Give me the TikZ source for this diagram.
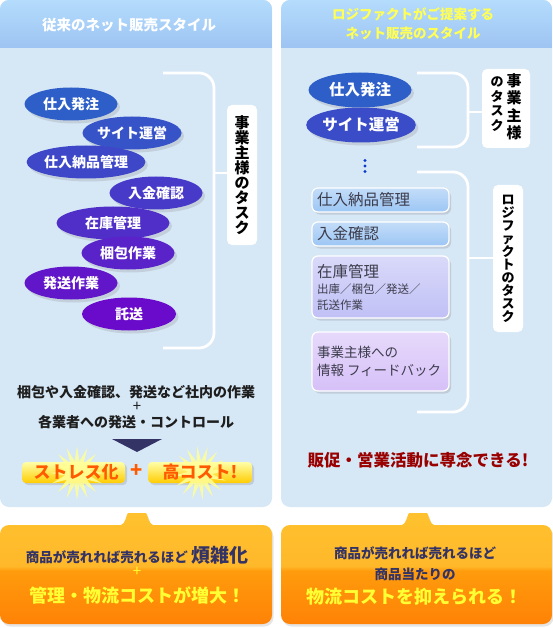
\documentclass[tikz,border=0pt]{standalone}
\usepackage{fontspec}
\setmainfont{Noto Sans CJK JP}
\usetikzlibrary{shapes.geometric,shadows,positioning}
\definecolor{PanelBody}{HTML}{D6E7F6}
\definecolor{HeadTop}{HTML}{B4DCFC}
\definecolor{HeadBot}{HTML}{96BCEF}
\definecolor{HeadYel}{HTML}{FFFF55}
\definecolor{EllBlue}{HTML}{2E5FC8}
\definecolor{EllPurple}{HTML}{6A0ACA}
\definecolor{TxtDark}{HTML}{1E1E1E}
\definecolor{NavyTri}{HTML}{333366}
\definecolor{BtnTop}{HTML}{FFFFA8}
\definecolor{BtnBot}{HTML}{FFCC00}
\definecolor{BtnText}{HTML}{FF5A00}
\definecolor{StarYel}{HTML}{FFFF99}
\definecolor{OrgA}{HTML}{FFCC33}
\definecolor{OrgB}{HTML}{FFB82A}
\definecolor{OrgC}{HTML}{FF9C0C}
\definecolor{OrgD}{HTML}{FF6600}
\definecolor{OrgNavy}{HTML}{333366}
\definecolor{YelText}{HTML}{FFFF33}
\definecolor{RedText}{HTML}{990000}
\definecolor{BoxBlue}{HTML}{9CC6F4}
\definecolor{BoxLav}{HTML}{C0C0F6}
\definecolor{BoxPink}{HTML}{D6C0F8}
\definecolor{BoxText}{HTML}{3C3C4C}
\definecolor{DotBlue}{HTML}{0A3CCC}
\pgfdeclareverticalshading{orgfade}{100bp}{color(0bp)=(OrgD); color(49bp)=(OrgC); color(51bp)=(OrgB); color(100bp)=(OrgA)}
\newcommand{\fsz}[1]{\fontsize{#1}{#1}\selectfont}

\begin{document}
\begin{tikzpicture}[x=1pt, y=-1pt,
    ell/.style={ellipse, fill=#1, minimum height=33pt, inner sep=0pt,
                text=white, font=\fsz{14}\bfseries,
                drop shadow={shadow xshift=2.5pt, shadow yshift=-3pt, opacity=0.22}},
    lbl/.style={rectangle, rounded corners=5pt, fill=white, inner sep=0pt,
                align=center, font=\fsz{15}\bfseries},
    task/.style={rectangle, rounded corners=6pt, draw=white, line width=1.2pt,
                 top color=#1!60!white, bottom color=#1, minimum width=137pt,
                 text width=127pt, inner xsep=5pt, align=left, text=BoxText,
                 drop shadow={shadow xshift=2pt, shadow yshift=-2.5pt, opacity=0.25}},
    brace/.style={draw=white, line width=2.8pt, rounded corners=15pt},
    btn/.style={rectangle, rounded corners=4pt, top color=BtnTop, bottom color=BtnBot,
                minimum width=103pt, minimum height=21pt,
                drop shadow={shadow xshift=2pt, shadow yshift=-2pt, opacity=0.25}},
    burst/.style={fill=StarYel, opacity=0.85},
    btxt/.style={text=BtnText, font=\fsz{17}\bfseries},
  ]
  \useasboundingbox (0,0) rectangle (553,628);
  \fill[white] (0,0) rectangle (553,628);
  % panels and headers
  \fill[PanelBody, rounded corners=9pt] (0,0) rectangle (272,507);
  \fill[PanelBody, rounded corners=9pt] (281,0) rectangle (552,507);
  \begin{scope}
    \clip (0,0) rectangle (553,48);
    \shade[top color=HeadTop, bottom color=HeadBot, rounded corners=9pt] (0,0) rectangle (272,64);
    \shade[top color=HeadTop, bottom color=HeadBot, rounded corners=9pt] (281,0) rectangle (552,64);
  \end{scope}
  \node[text=white, font=\fsz{14.5}\bfseries] (hdL) at (129,25) {従来のネット販売スタイル};
  \node[text=HeadYel, font=\fontsize{13.5}{19}\selectfont\bfseries, align=center] (hdR) at (413,24)
    {ロジファクトがご提案する\\ネット販売のスタイル};

  % left panel
  \node[ell=EllBlue, minimum width=93pt] (ord) at (71,104) {仕入発注};
  \node[ell=EllPurple!14!EllBlue, minimum width=93pt] (site) at (132,133) {サイト運営};
  \node[ell=EllPurple!28!EllBlue, minimum width=111pt] (recv) at (86,162) {仕入納品管理};
  \node[ell=EllPurple!43!EllBlue, minimum width=93pt] (pay) at (156,193) {入金確認};
  \node[ell=EllPurple!57!EllBlue, minimum width=113pt] (stock) at (113,223) {在庫管理};
  \node[ell=EllPurple!71!EllBlue, minimum width=93pt] (pack) at (128,253) {梱包作業};
  \node[ell=EllPurple!86!EllBlue, minimum width=93pt] (ship) at (71,283) {発送作業};
  \node[ell=EllPurple, minimum width=94pt] (carry) at (129,314) {託送};
  \draw[brace] (163,73) -- (214,73) -- (214,348) -- (163,348);
  \node[lbl, minimum width=30pt, minimum height=140pt] (lblL) at (242,175)
    {事\\業\\主\\様\\の\\タ\\ス\\ク};
  \coordinate (bkL) at (214,173);
  \draw[brace] (bkL) -- (bkL -| lblL.west);

  \node[text=TxtDark, font=\fsz{14}\bfseries] (noteA) at (136,392) {梱包や入金確認、発送など社内の作業};
  \node[text=TxtDark, font=\fsz{15}] (noteP) at (137,407) {+};
  \node[text=TxtDark, font=\fsz{14}\bfseries] (noteB) at (136,422) {各業者への発送・コントロール};
  \fill[NavyTri] (112,439) -- (162,439) -- (137,452) -- cycle;

  \node[btn] (btnL) at (73.5,472.5) {};
  \node[btn, minimum width=104pt] (btnR) at (200,472.5) {};
  \begin{scope}[shift={(77,473)}]
    \fill[burst] (0:27) \foreach \k in {1,...,31} { -- ({\k*360/32}:{ifthenelse(mod(\k,2)==0,27,12)}) } -- cycle;
  \end{scope}
  \begin{scope}[shift={(200,473)}, rotate=6]
    \fill[burst] (0:27) \foreach \k in {1,...,31} { -- ({\k*360/32}:{ifthenelse(mod(\k,2)==0,27,12)}) } -- cycle;
  \end{scope}
  \node[btxt] (txL) at (76,472) {ストレス化};
  \node[btxt] (txR) at (200,472) {高コスト!};
  \node[btxt, font=\fsz{20}\bfseries] (txP) at (137,471) {+};

  % right panel
  \node[ell=EllBlue, minimum width=103pt, minimum height=35pt, font=\fsz{15.5}\bfseries] (rord) at (360,90) {仕入発注};
  \node[ell=EllPurple!22!EllBlue, minimum width=103pt, minimum height=35pt, font=\fsz{15.5}\bfseries] (rsite) at (361,125) {サイト運営};
  \fill[DotBlue] (365,160.5) circle (1.6pt);
  \fill[DotBlue] (365,166) circle (1.6pt);
  \fill[DotBlue] (365,171.5) circle (1.6pt);
  \draw[brace] (417,73) -- (468,73) -- (468,147) -- (417,147);
  \draw[brace] (417,172) -- (468,172) -- (468,412) -- (417,412);
  \node[lbl, minimum width=48pt, minimum height=79pt] (lblR1) at (506,108.5)
    {{\fsz{13}\begin{tabular}[t]{@{}c@{}}の\\タ\\ス\\ク\end{tabular}}\hspace{3pt}%
     {\fsz{15}\begin{tabular}[t]{@{}c@{}}事\\業\\主\\様\end{tabular}}};
  \node[lbl, minimum width=30pt, minimum height=147pt, font=\fsz{13}\bfseries] (lblR2) at (508,258.5)
    {ロ\\ジ\\フ\\ァ\\ク\\ト\\の\\タ\\ス\\ク};
  \coordinate (bkR1) at (468,112);
  \coordinate (bkR2) at (468,258);
  \draw[brace] (bkR1) -- (bkR1 -| lblR1.west);
  \draw[brace] (bkR2) -- (bkR2 -| lblR2.west);

  \node[task=BoxBlue, minimum height=24pt, font=\fsz{15.5}] (trecv) at (380.5,200) {仕入納品管理};
  \node[task=BoxBlue, minimum height=24pt, font=\fsz{15.5}] (tpay) at (380.5,234) {入金確認};
  \node[task=BoxLav, minimum height=62pt, font=\fontsize{11.5}{16}\selectfont] (tstock) at (380.5,287)
    {{\fsz{15.5}在庫管理}\\出庫／梱包／発送／\\託送作業};
  \node[task=BoxPink, minimum height=59pt, font=\fontsize{13.5}{18}\selectfont] (tfb) at (380.5,361.5)
    {事業主様への\\情報\hspace{3pt}フィードバック};
  \node[text=RedText, font=\fsz{16.5}\bfseries] (slogan) at (418,460) {販促・営業活動に専念できる!};

  % result boxes
  \shade[shading=orgfade, rounded corners=9pt,
         drop shadow={shadow xshift=1.5pt, shadow yshift=-2.5pt, opacity=0.2}]
    (0,575) -- (0,525) -- (112,525) .. controls (125,525) and (127,513) .. (137,513)
    .. controls (147,513) and (149,525) .. (162,525) -- (272,525) -- (272,624) -- (0,624) -- cycle;
  \shade[shading=orgfade, rounded corners=9pt,
         drop shadow={shadow xshift=1.5pt, shadow yshift=-2.5pt, opacity=0.2}]
    (281,575) -- (281,525) -- (393,525) .. controls (406,525) and (408,513) .. (418,513)
    .. controls (428,513) and (430,525) .. (443,525) -- (552,525) -- (552,624) -- (281,624) -- cycle;
  \node[text=OrgNavy, font=\fsz{13.5}\bfseries] (resL1) at (137,555) {商品が売れれば売れるほど {\fsz{19}煩雑化}};
  \node[text=YelText, font=\fsz{15}] (resL2) at (137,572) {+};
  \node[text=YelText, font=\fsz{18}\bfseries] (resL3) at (137,595) {管理・物流コストが増大！};
  \node[text=OrgNavy, font=\fsz{13.5}\bfseries] (resR1) at (415,553) {商品が売れれば売れるほど};
  \node[text=OrgNavy, font=\fsz{13.5}\bfseries] (resR2) at (415,574) {商品当たりの};
  \node[text=YelText, font=\fsz{18}\bfseries] (resR3) at (414,597) {物流コストを抑えられる！};
\end{tikzpicture}
\end{document}
